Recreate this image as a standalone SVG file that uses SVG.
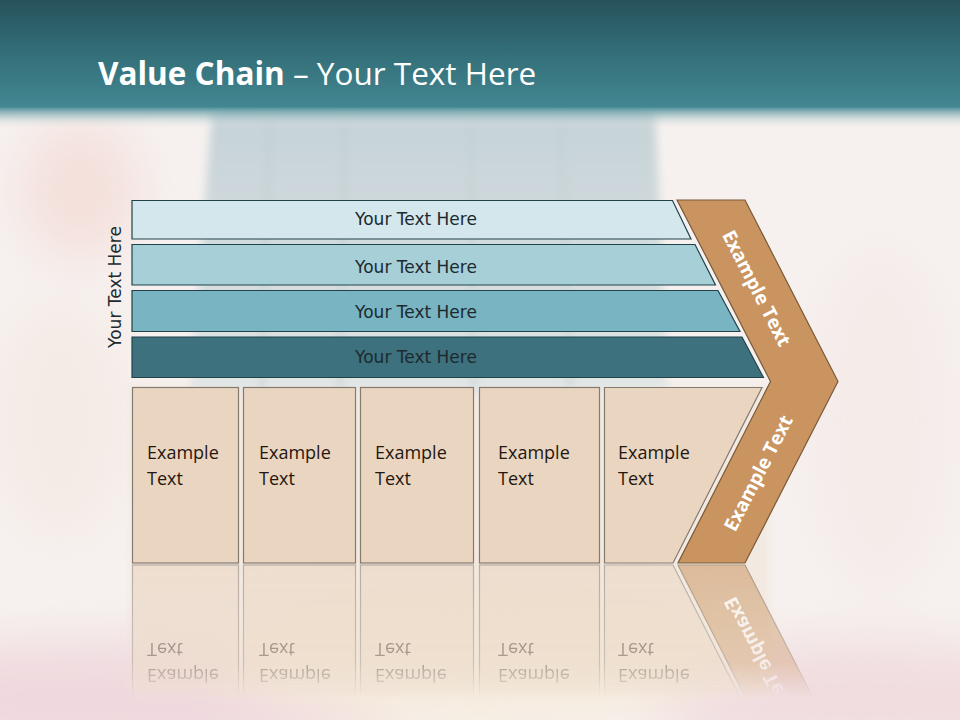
<svg xmlns="http://www.w3.org/2000/svg" xmlns:xlink="http://www.w3.org/1999/xlink" width="960" height="720" viewBox="0 0 960 720">
  <style>
    .bar { stroke: #22424a; stroke-width: 1.2; }
    .bartxt { font-family: "DejaVu Sans", Verdana, sans-serif; font-size: 17px; fill: #1c2a2f; text-anchor: middle; }
    .box { fill: #ead5c1; stroke: #857a70; stroke-width: 1.2; }
    .boxtxt { font-family: "Open Sans", "Liberation Sans", sans-serif; font-size: 18px; fill: #24170e; }
    .chev { fill: #c9945f; stroke: #7a5a3a; stroke-width: 1.2; }
    .chevtxt { font-family: "Open Sans", "Liberation Sans", sans-serif; font-size: 19px; font-weight: bold; fill: #ffffff; text-anchor: middle; }
    .title { font-family: "Open Sans", "Liberation Sans", sans-serif; font-size: 31.5px; fill: #ffffff; }
  </style>
  <defs>
    <linearGradient id="hdr" x1="0" y1="0" x2="0" y2="1">
      <stop offset="0" stop-color="#27525b"/>
      <stop offset="0.5" stop-color="#336f79"/>
      <stop offset="1" stop-color="#438792"/>
    </linearGradient>
    <linearGradient id="hdrfade" x1="0" y1="0" x2="0" y2="1">
      <stop offset="0" stop-color="#4a8d97" stop-opacity="1"/>
      <stop offset="1" stop-color="#f4efee" stop-opacity="0"/>
    </linearGradient>
    <linearGradient id="pillar" x1="0" y1="0" x2="0" y2="1">
      <stop offset="0" stop-color="#c5d2d7"/>
      <stop offset="1" stop-color="#e2e6e5"/>
    </linearGradient>
    <linearGradient id="fadeg" x1="0" y1="0" x2="0" y2="1">
      <stop offset="0" stop-color="#ffffff" stop-opacity="0.55"/>
      <stop offset="0.7" stop-color="#ffffff" stop-opacity="0.35"/>
      <stop offset="0.95" stop-color="#ffffff" stop-opacity="0"/>
    </linearGradient>
    <mask id="fade" maskUnits="userSpaceOnUse" x="0" y="563" width="960" height="157">
      <rect x="0" y="564" width="960" height="140" fill="url(#fadeg)"/>
    </mask>
    <filter id="blur" x="-30%" y="-30%" width="160%" height="160%">
      <feGaussianBlur stdDeviation="25"/>
    </filter>
    <filter id="blur2" x="-10%" y="-10%" width="120%" height="120%">
      <feGaussianBlur stdDeviation="4"/>
    </filter>
  </defs>

  <!-- background -->
  <rect x="0" y="0" width="960" height="720" fill="#f6f1ef"/>
  <g filter="url(#blur)">
    <ellipse cx="80" cy="190" rx="60" ry="70" fill="#f4e0dc"/>
    <ellipse cx="60" cy="420" rx="70" ry="120" fill="#f5ebe6"/>
    <ellipse cx="120" cy="700" rx="300" ry="60" fill="#f0d9de"/>
    <ellipse cx="860" cy="700" rx="220" ry="60" fill="#f1dde0"/>
    <ellipse cx="480" cy="650" rx="260" ry="70" fill="#f6ecdc"/>
    <ellipse cx="880" cy="420" rx="80" ry="180" fill="#f5ecea"/>
  </g>
  <rect x="130" y="385" width="640" height="310" fill="#f0e2d5" opacity="0.5" filter="url(#blur2)"/>
  <g filter="url(#blur2)">
    <polygon points="212,110 655,110 668,392 190,392" fill="url(#pillar)"/>
    <line x1="270" y1="112" x2="262" y2="390" stroke="#bdcbd0" stroke-width="3"/>
    <line x1="345" y1="112" x2="340" y2="390" stroke="#bdcbd0" stroke-width="3"/>
    <line x1="470" y1="112" x2="474" y2="390" stroke="#c0ced2" stroke-width="3"/>
    <line x1="560" y1="112" x2="570" y2="390" stroke="#c0ced2" stroke-width="3"/>
  </g>

  <!-- header -->
  <rect x="0" y="0" width="960" height="108" fill="url(#hdr)"/>
  <rect x="0" y="107" width="960" height="22" fill="url(#hdrfade)"/>
  <text class="title" x="98" y="85"><tspan font-weight="bold">Value Chain</tspan> – Your Text Here</text>

  <!-- side label -->
  <g id="side-label">
    <text class="bartxt" fill="#000000" transform="translate(121,287) rotate(-90)">Your Text Here</text>
  </g>

  <!-- bars -->
  <g id="bar1">
    <polygon class="bar" points="132,200.5 672.5,200.5 691,239 132,239" fill="#d3e7ec"/>
    <text class="bartxt" x="416" y="225">Your Text Here</text>
  </g>
  <g id="bar2">
    <polygon class="bar" points="132,244.5 695,244.5 715.5,285 132,285" fill="#a6cfd7"/>
    <text class="bartxt" x="416" y="273">Your Text Here</text>
  </g>
  <g id="bar3">
    <polygon class="bar" points="132,290.5 718,290.5 740,331.5 132,331.5" fill="#78b4c1"/>
    <text class="bartxt" x="416" y="318">Your Text Here</text>
  </g>
  <g id="bar4">
    <polygon class="bar" points="132,337 742,337 763.5,377.5 132,377.5" fill="#3c717d"/>
    <text class="bartxt" x="416" y="363">Your Text Here</text>
  </g>

  <!-- boxes -->
  <g id="box1">
    <rect class="box" x="132.5" y="387.5" width="106" height="175.5"/>
    <text class="boxtxt" x="147" y="459">Example<tspan x="147" y="485">Text</tspan></text>
  </g>
  <g id="box2">
    <rect class="box" x="243.5" y="387.5" width="112" height="175.5"/>
    <text class="boxtxt" x="259" y="459">Example<tspan x="259" y="485">Text</tspan></text>
  </g>
  <g id="box3">
    <rect class="box" x="360.5" y="387.5" width="113" height="175.5"/>
    <text class="boxtxt" x="375" y="459">Example<tspan x="375" y="485">Text</tspan></text>
  </g>
  <g id="box4">
    <rect class="box" x="479.5" y="387.5" width="120" height="175.5"/>
    <text class="boxtxt" x="498" y="459">Example<tspan x="498" y="485">Text</tspan></text>
  </g>
  <g id="box5">
    <polygon class="box" points="604.5,387.5 762,387.5 673,563 604.5,563"/>
    <text class="boxtxt" x="618" y="459">Example<tspan x="618" y="485">Text</tspan></text>
  </g>

  <!-- chevron -->
  <g id="chevron">
    <polygon class="chev" points="677,200 745,200 838,381.5 745,563 678,563 770.5,381.5"/>
    <text class="chevtxt" transform="translate(757,288) rotate(62.8)" y="7">Example Text</text>
    <text class="chevtxt" transform="translate(758,473) rotate(-62.8)" y="7">Example Text</text>
  </g>

  <!-- reflection -->
  <g id="reflection" mask="url(#fade)">
    <g transform="translate(0,1128) scale(1,-1)">
      <use xlink:href="#box1"/>
      <use xlink:href="#box2"/>
      <use xlink:href="#box3"/>
      <use xlink:href="#box4"/>
      <use xlink:href="#box5"/>
      <use xlink:href="#chevron"/>
    </g>
  </g>
</svg>
